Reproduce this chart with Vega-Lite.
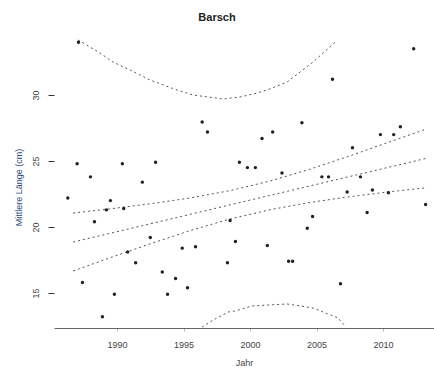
{
  "$schema": "https://vega.github.io/schema/vega-lite/v6.json",
  "width": 380,
  "height": 297,
  "autosize": {"type": "none"},
  "padding": {"left": 54, "top": 31, "right": 0, "bottom": 54},
  "background": "white",
  "title": {"text": "Barsch", "fontSize": 11, "fontWeight": "bold", "font": "Liberation Sans", "color": "#222", "anchor": "middle", "dx": -27, "offset": 8},
  "config": {"view": {"stroke": null}},
  "datasets": {
    "pts": [
      {"year": 1987.1, "value": 34.0}, {"year": 2012.3, "value": 33.5}, {"year": 2006.2, "value": 31.2},
      {"year": 1996.4, "value": 27.95}, {"year": 2003.9, "value": 27.9}, {"year": 1996.8, "value": 27.2},
      {"year": 2000.9, "value": 26.7}, {"year": 2001.7, "value": 27.2}, {"year": 2011.3, "value": 27.6},
      {"year": 2009.8, "value": 27.0}, {"year": 2010.8, "value": 27.0}, {"year": 2007.7, "value": 26.0},
      {"year": 1987.0, "value": 24.8}, {"year": 1990.4, "value": 24.8}, {"year": 1992.9, "value": 24.9},
      {"year": 1999.2, "value": 24.9}, {"year": 1999.8, "value": 24.5}, {"year": 2000.4, "value": 24.5},
      {"year": 1988.0, "value": 23.8}, {"year": 1991.9, "value": 23.4}, {"year": 2002.4, "value": 24.1},
      {"year": 2005.4, "value": 23.8}, {"year": 2005.9, "value": 23.8}, {"year": 2008.3, "value": 23.8},
      {"year": 1986.3, "value": 22.2}, {"year": 1989.5, "value": 22.0}, {"year": 2007.3, "value": 22.65},
      {"year": 2009.2, "value": 22.8}, {"year": 2010.4, "value": 22.6}, {"year": 2013.2, "value": 21.7},
      {"year": 2008.8, "value": 21.1}, {"year": 1988.3, "value": 20.4}, {"year": 1998.5, "value": 20.5},
      {"year": 2004.7, "value": 20.8}, {"year": 2004.3, "value": 19.9}, {"year": 1989.2, "value": 21.3},
      {"year": 1990.5, "value": 21.4}, {"year": 1992.5, "value": 19.2}, {"year": 1994.9, "value": 18.4},
      {"year": 1995.9, "value": 18.5}, {"year": 1998.9, "value": 18.9}, {"year": 2001.3, "value": 18.6},
      {"year": 1990.8, "value": 18.1}, {"year": 1991.4, "value": 17.3}, {"year": 1998.3, "value": 17.3},
      {"year": 2002.9, "value": 17.4}, {"year": 2003.2, "value": 17.4}, {"year": 1987.4, "value": 15.8},
      {"year": 1993.4, "value": 16.6}, {"year": 1994.4, "value": 16.1}, {"year": 1995.3, "value": 15.4},
      {"year": 1993.8, "value": 14.9}, {"year": 1989.8, "value": 14.9}, {"year": 2006.8, "value": 15.7},
      {"year": 1988.9, "value": 13.2}
    ],
    "lines": [
      {"series": "fit", "year": 1986.7, "value": 18.86}, {"series": "fit", "year": 2013.2, "value": 25.19},
      {"series": "conf_hi", "year": 1986.7, "value": 21.06}, {"series": "conf_hi", "year": 1989.5, "value": 21.38},
      {"series": "conf_hi", "year": 1992.5, "value": 21.76}, {"series": "conf_hi", "year": 1995.5, "value": 22.2},
      {"series": "conf_hi", "year": 1998.5, "value": 22.76}, {"series": "conf_hi", "year": 2001.5, "value": 23.48},
      {"series": "conf_hi", "year": 2004.5, "value": 24.38}, {"series": "conf_hi", "year": 2007.5, "value": 25.39},
      {"series": "conf_hi", "year": 2010.5, "value": 26.45}, {"series": "conf_hi", "year": 2013.2, "value": 27.41},
      {"series": "conf_lo", "year": 1986.7, "value": 16.67}, {"series": "conf_lo", "year": 1989.5, "value": 17.68},
      {"series": "conf_lo", "year": 1992.5, "value": 18.73}, {"series": "conf_lo", "year": 1995.5, "value": 19.73},
      {"series": "conf_lo", "year": 1998.5, "value": 20.61}, {"series": "conf_lo", "year": 2001.5, "value": 21.31},
      {"series": "conf_lo", "year": 2004.5, "value": 21.86}, {"series": "conf_lo", "year": 2007.5, "value": 22.3},
      {"series": "conf_lo", "year": 2010.5, "value": 22.67}, {"series": "conf_lo", "year": 2013.2, "value": 22.97},
      {"series": "pred_hi", "year": 1987.07, "value": 34.17}, {"series": "pred_hi", "year": 1988.72, "value": 33.18},
      {"series": "pred_hi", "year": 1989.7, "value": 32.5}, {"series": "pred_hi", "year": 1990.98, "value": 31.89},
      {"series": "pred_hi", "year": 1992.48, "value": 31.14}, {"series": "pred_hi", "year": 1994.51, "value": 30.38},
      {"series": "pred_hi", "year": 1995.71, "value": 30.0}, {"series": "pred_hi", "year": 1997.97, "value": 29.7},
      {"series": "pred_hi", "year": 1999.25, "value": 29.85}, {"series": "pred_hi", "year": 2000.53, "value": 30.15},
      {"series": "pred_hi", "year": 2001.28, "value": 30.38}, {"series": "pred_hi", "year": 2002.78, "value": 30.98},
      {"series": "pred_hi", "year": 2003.76, "value": 31.74}, {"series": "pred_hi", "year": 2004.74, "value": 32.5},
      {"series": "pred_hi", "year": 2005.49, "value": 33.18}, {"series": "pred_hi", "year": 2006.4, "value": 34.0},
      {"series": "pred_lo", "year": 1996.39, "value": 12.42}, {"series": "pred_lo", "year": 1997.22, "value": 12.95},
      {"series": "pred_lo", "year": 1998.35, "value": 13.56}, {"series": "pred_lo", "year": 1998.87, "value": 13.64},
      {"series": "pred_lo", "year": 2000.15, "value": 14.02}, {"series": "pred_lo", "year": 2002.78, "value": 14.17},
      {"series": "pred_lo", "year": 2003.76, "value": 14.02}, {"series": "pred_lo", "year": 2004.74, "value": 13.86},
      {"series": "pred_lo", "year": 2005.49, "value": 13.56}, {"series": "pred_lo", "year": 2006.62, "value": 13.11},
      {"series": "pred_lo", "year": 2007.14, "value": 12.5}
    ]
  },
  "layer": [
    {
      "data": {"name": "lines"},
      "mark": {"type": "line", "strokeDash": [2, 3], "strokeWidth": 1, "color": "#555", "clip": true},
      "encoding": {
        "x": {"field": "year", "type": "quantitative", "scale": {"domain": [1985.26, 2013.83], "nice": false, "zero": false},
          "axis": {"values": [1990, 1995, 2000, 2005, 2010], "format": "d", "title": "Jahr", "grid": false,
            "domainColor": "#666", "domainWidth": 1, "tickSize": 3, "tickColor": "#bbb",
            "labelFont": "Liberation Sans", "labelFontSize": 9, "labelColor": "#444", "labelPadding": 9,
            "titleFont": "Liberation Sans", "titleFontSize": 9, "titleFontWeight": "normal", "titleColor": "#444", "titlePadding": 9}},
        "y": {"field": "value", "type": "quantitative", "scale": {"domain": [12.35, 34.85], "nice": false, "zero": false},
          "axis": {"values": [15, 20, 25, 30], "format": "d", "title": "Mittlere Länge (cm)", "grid": false, "domain": false,
            "tickSize": 6, "tickColor": "#333", "labelAngle": -90, "labelAlign": "center", "labelBaseline": "bottom",
            "labelFont": "Liberation Sans", "labelFontSize": 9, "labelColor": "#444", "labelPadding": 8,
            "titleFont": "Liberation Sans", "titleFontSize": 9, "titleFontWeight": "normal", "titleColor": "#2b4a7a", "titlePadding": 8, "titleY": 156}},
        "detail": {"field": "series", "type": "nominal"}
      }
    },
    {
      "data": {"name": "pts"},
      "mark": {"type": "circle", "size": 12, "color": "#222", "opacity": 1},
      "encoding": {
        "x": {"field": "year", "type": "quantitative"},
        "y": {"field": "value", "type": "quantitative"}
      }
    }
  ]
}
